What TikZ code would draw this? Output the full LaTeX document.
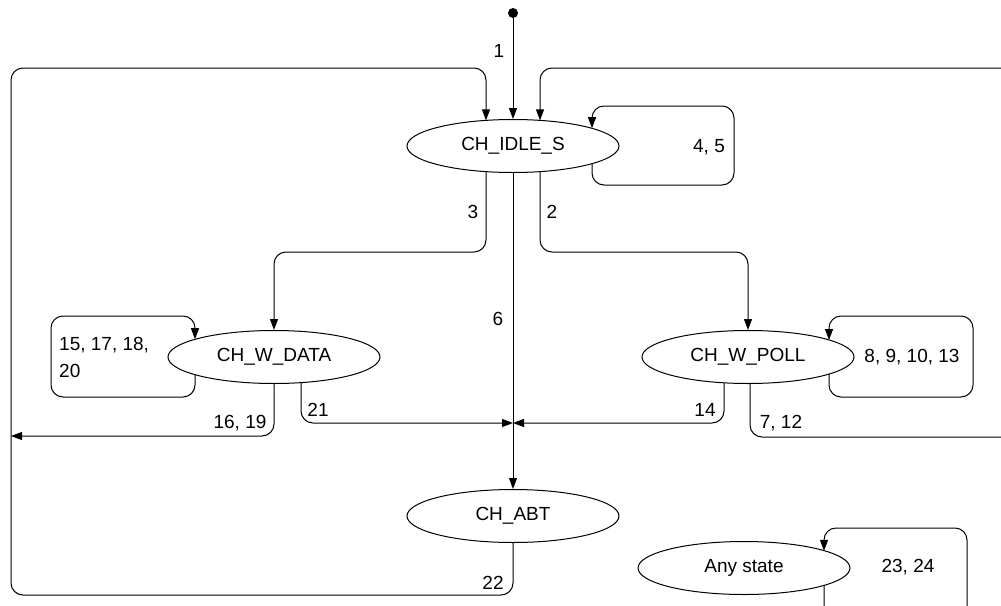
\documentclass[tikz,border=0pt]{standalone}
\usepackage{fontspec}
\setmainfont{Liberation Sans}
\usetikzlibrary{shapes.geometric,arrows.meta,calc}
\begin{document}
\begin{tikzpicture}[x=1pt,y=-1pt,
  state/.style={ellipse,draw,line width=1pt,minimum width=212pt,minimum height=53pt,
    inner sep=0pt,font=\fontsize{19}{23}\selectfont},
  trans/.style={draw,line width=1pt,rounded corners=12pt,
    -{Triangle[length=11pt,width=8pt]}},
  lbl/.style={font=\fontsize{19}{27}\selectfont,inner sep=0pt}]
\useasboundingbox (0,0) rectangle (1001,605);
\clip (0,0) rectangle (1001,605);

% states
\node[circle,fill,inner sep=0pt,minimum size=10pt] (init) at (513,13) {};
\node[state] (idle)  at (513,146) {CH\_IDLE\_S};
\node[state] (wdata) at (274,357) {CH\_W\_DATA};
\node[state] (wpoll) at (748,357) {CH\_W\_POLL};
\node[state] (abt)   at (513,516) {CH\_ABT};
\node[state] (any)   at (744,568) {Any state};

% initial transition
\draw[trans] (init) -- (idle.north);
\node[lbl] (l1) at (499,51) {1};

% CH_ABT back to CH_IDLE_S around the left side
\draw[trans] (abt.south) -- (513,595) -- (11,595) -- (11,68) -- (486,68)
  -- ($(idle.center)+(-27,-25.6)$);
\node[lbl] (l22) at (493,583) {22};

% CH_W_POLL back to CH_IDLE_S around the right side
\draw[trans] ($(wpoll.center)+(2,26.5)$) -- (750,437) -- (1015,437) -- (1015,68)
  -- (540,68) -- ($(idle.center)+(27,-25.6)$);
\node[lbl] (l7) at (781,423) {7, 12};

% CH_IDLE_S to CH_ABT
\draw[trans] (idle.south) -- (abt.north);
\node[lbl] (l6) at (498,319) {6};

% CH_IDLE_S to CH_W_DATA / CH_W_POLL
\draw[trans] ($(idle.center)+(-27,25.6)$) -- (486,252) -- (274,252) -- (wdata.north);
\node[lbl] (l3) at (473,212) {3};
\draw[trans] ($(idle.center)+(27,25.6)$) -- (540,252) -- (748,252) -- (wpoll.north);
\node[lbl] (l2) at (552,212) {2};

% self loop on CH_IDLE_S
\draw[trans] ($(idle.center)+(79,17.8)$) -- (592,185) -- (734,185) -- (734,106)
  -- (592,106) -- ($(idle.center)+(79,-17.8)$);
\node[lbl] (l4) at (709,147) {4, 5};

% self loop on CH_W_DATA
\draw[trans] ($(wdata.center)+(-79,17.8)$) -- (195,397) -- (51,397) -- (51,316)
  -- (195,316) -- ($(wdata.center)+(-79,-17.8)$);
\node[lbl,align=left,anchor=west] (l15) at (59,357) {15, 17, 18,\\20};

% CH_W_DATA exits
\draw[trans] (wdata.south) -- (274,436) -- (11,436);
\node[lbl] (l16) at (240,423) {16, 19};
\draw[trans] ($(wdata.center)+(27,25.6)$) -- (301,423) -- (513,423);
\node[lbl] (l21) at (318,410) {21};

% CH_W_POLL exits
\draw[trans] ($(wpoll.center)+(-24,25.8)$) -- (724,423) -- (513,423);
\node[lbl] (l14) at (705,410) {14};

% self loop on CH_W_POLL
\draw[trans] ($(wpoll.center)+(81,16.9)$) -- (829,397) -- (973,397) -- (973,316)
  -- (829,316) -- ($(wpoll.center)+(81,-16.9)$);
\node[lbl] (l8) at (912,357) {8, 9, 10, 13};

% self loop on Any state
\draw[trans] ($(any.center)+(80,17.1)$) -- (824,625) -- (967,625) -- (967,528)
  -- (824,528) -- ($(any.center)+(80,-17.1)$);
\node[lbl] (l23) at (908,567) {23, 24};
\end{tikzpicture}
\end{document}
